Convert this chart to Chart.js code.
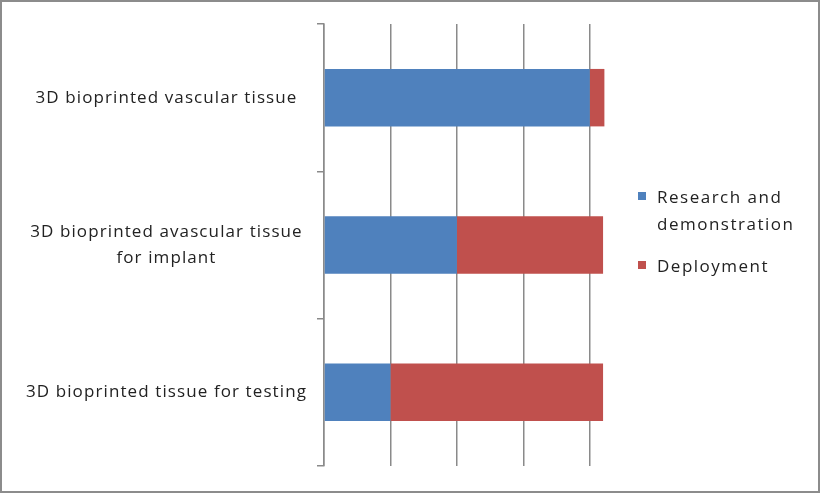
<!DOCTYPE html>
<html>
<head>
<meta charset="utf-8">
<script src="https://cdn.jsdelivr.net/npm/chart.js@4/dist/chart.umd.min.js"></script>
<style>
  html, body { margin: 0; padding: 0; background: #fff; }
  #wrap { width: 820px; height: 493px; position: relative; }
</style>
</head>
<body>
<div id="wrap"><canvas id="c" width="820" height="493"></canvas></div>
<script>
const categories = [
  ["3D bioprinted vascular tissue"],
  ["3D bioprinted avascular tissue", "for implant"],
  ["3D bioprinted tissue for testing"]
];
const seriesNames = [["Research and", "demonstration"], ["Deployment"]];
const researchValues = [4.0, 2.0, 1.0];
const deploymentValues = [0.22, 2.2, 3.2];
const colors = ["#4F81BD", "#C0504D"];

const FONT = "'Open Sans', 'DejaVu Sans', sans-serif";
const TEXT = "#222222";
const GRID = "#8a8a8a";
const SPACING = '1.1px';

function setSpacing(chart) { try { chart.ctx.letterSpacing = SPACING; } catch (e) {} }

const frame = {
  id: 'frame',
  beforeInit: setSpacing,
  beforeUpdate: setSpacing,
  beforeLayout: setSpacing,
  beforeDraw(chart) {
    setSpacing(chart);
    const ctx = chart.ctx;
    ctx.save();
    ctx.fillStyle = '#fff';
    ctx.fillRect(0, 0, chart.width, chart.height);
    ctx.restore();
  },
  afterDraw(chart) {
    const ctx = chart.ctx;
    ctx.save();
    ctx.strokeStyle = '#8c8c8c';
    ctx.lineWidth = 2;
    ctx.strokeRect(1, 1, chart.width - 2, chart.height - 2);
    // custom legend
    ctx.font = "17px " + FONT;
    ctx.letterSpacing = '1.5px';
    ctx.textBaseline = 'middle';
    ctx.textAlign = 'left';
    const x0 = 638, tx = 657;
    const rows = [196, 265];
    chart.data.datasets.forEach((ds, i) => {
      const y = rows[i];
      ctx.fillStyle = ds.backgroundColor;
      ctx.fillRect(x0, y - 4, 8, 8);
      ctx.fillStyle = TEXT;
      const lines = seriesNames[i];
      lines.forEach((ln, j) => ctx.fillText(ln, tx, y + 2 + j * 27));
    });
    ctx.restore();
  }
};

new Chart(document.getElementById('c'), {
  type: 'bar',
  data: {
    labels: categories,
    datasets: [
      { label: seriesNames[0].join(' '), data: researchValues, backgroundColor: colors[0] },
      { label: seriesNames[1].join(' '), data: deploymentValues, backgroundColor: colors[1] }
    ]
  },
  options: {
    indexAxis: 'y',
    responsive: false,
    animation: false,
    devicePixelRatio: 1,
    layout: { padding: { left: 0, top: 24, right: 197, bottom: 27 } },
    plugins: { legend: { display: false }, tooltip: { enabled: false } },
    datasets: { bar: { barPercentage: 0.39, categoryPercentage: 1.0 } },
    scales: {
      x: {
        stacked: true,
        min: 0, max: 4.5,
        ticks: { display: false, stepSize: 1 },
        afterBuildTicks(scale) { scale.ticks = scale.ticks.filter(t => Number.isInteger(t.value)); },
        grid: { color: GRID, lineWidth: 1.5, drawTicks: false },
        border: { display: false }
      },
      y: {
        stacked: true,
        afterFit(scale) { scale.width = 324; },
        ticks: {
          color: TEXT,
          font: { family: FONT, size: 17, lineHeight: 1.53 },
          crossAlign: 'center',
          padding: 10
        },
        grid: { drawOnChartArea: false, drawTicks: true, tickLength: 7, color: GRID, lineWidth: 1.5 },
        border: { display: true, color: GRID, width: 1.5 }
      }
    }
  },
  plugins: [frame]
});
</script>
</body>
</html>
